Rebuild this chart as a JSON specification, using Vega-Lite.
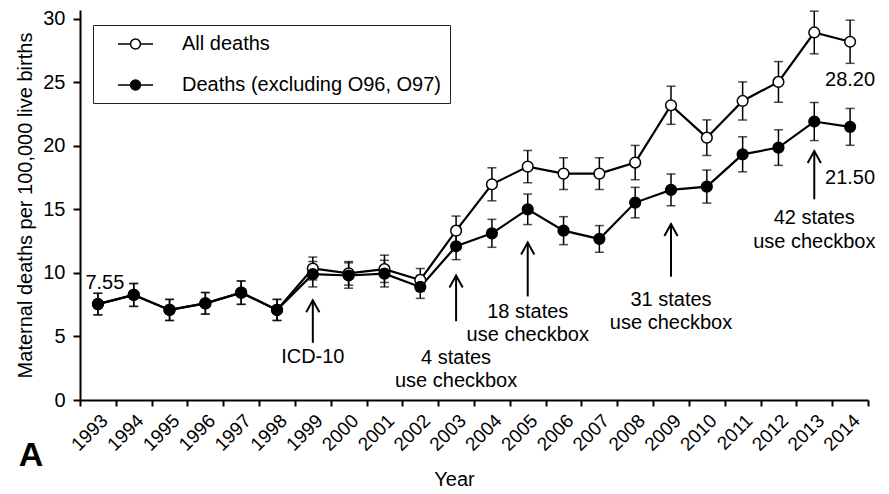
{
  "$schema": "https://vega.github.io/schema/vega-lite/v6.json",
  "width": 788,
  "height": 390,
  "autosize": "none",
  "padding": {"left": 80, "top": 10, "right": 21, "bottom": 94},
  "background": "white",
  "config": {
    "font": "Liberation Sans",
    "view": {"stroke": null},
    "axis": {"domainColor": "black", "tickColor": "black", "labelColor": "black", "titleColor": "black", "grid": false, "labelFont": "Liberation Sans", "titleFont": "Liberation Sans", "titleFontWeight": "normal"},
    "axisY": {"titleFontSize": 20, "titlePadding": 7, "labelFontSize": 20, "labelPadding": 8, "tickSize": 7, "tickWidth": 2, "domainWidth": 2}
  },
  "title": {"text": "A", "orient": "bottom", "anchor": "start", "frame": "bounds", "fontSize": 34, "fontWeight": "bold", "font": "Liberation Sans", "color": "black", "offset": -50, "dx": 3},
  "datasets": {
    "main": [
      {"year": 1993, "series": "All deaths", "v": 7.55, "lo": 6.70, "hi": 8.40},
      {"year": 1994, "series": "All deaths", "v": 8.27, "lo": 7.37, "hi": 9.17},
      {"year": 1995, "series": "All deaths", "v": 7.09, "lo": 6.26, "hi": 7.92},
      {"year": 1996, "series": "All deaths", "v": 7.61, "lo": 6.76, "hi": 8.46},
      {"year": 1997, "series": "All deaths", "v": 8.45, "lo": 7.53, "hi": 9.37},
      {"year": 1998, "series": "All deaths", "v": 7.09, "lo": 6.26, "hi": 7.92},
      {"year": 1999, "series": "All deaths", "v": 10.35, "lo": 9.45, "hi": 11.25},
      {"year": 2000, "series": "All deaths", "v": 9.97, "lo": 9.04, "hi": 10.90},
      {"year": 2001, "series": "All deaths", "v": 10.30, "lo": 9.25, "hi": 11.40},
      {"year": 2002, "series": "All deaths", "v": 9.45, "lo": 8.55, "hi": 10.35},
      {"year": 2003, "series": "All deaths", "v": 13.33, "lo": 12.18, "hi": 14.48},
      {"year": 2004, "series": "All deaths", "v": 16.98, "lo": 15.68, "hi": 18.28},
      {"year": 2005, "series": "All deaths", "v": 18.37, "lo": 17.10, "hi": 19.64},
      {"year": 2006, "series": "All deaths", "v": 17.82, "lo": 16.57, "hi": 19.07},
      {"year": 2007, "series": "All deaths", "v": 17.82, "lo": 16.57, "hi": 19.07},
      {"year": 2008, "series": "All deaths", "v": 18.69, "lo": 17.34, "hi": 20.04},
      {"year": 2009, "series": "All deaths", "v": 23.20, "lo": 21.70, "hi": 24.70},
      {"year": 2010, "series": "All deaths", "v": 20.65, "lo": 19.25, "hi": 22.05},
      {"year": 2011, "series": "All deaths", "v": 23.54, "lo": 22.04, "hi": 25.04},
      {"year": 2012, "series": "All deaths", "v": 25.04, "lo": 23.44, "hi": 26.64},
      {"year": 2013, "series": "All deaths", "v": 28.93, "lo": 27.25, "hi": 30.61},
      {"year": 2014, "series": "All deaths", "v": 28.20, "lo": 26.50, "hi": 29.90},
      {"year": 1993, "series": "Deaths (excluding O96, O97)", "v": 7.55, "lo": 6.70, "hi": 8.40},
      {"year": 1994, "series": "Deaths (excluding O96, O97)", "v": 8.27, "lo": 7.37, "hi": 9.17},
      {"year": 1995, "series": "Deaths (excluding O96, O97)", "v": 7.09, "lo": 6.26, "hi": 7.92},
      {"year": 1996, "series": "Deaths (excluding O96, O97)", "v": 7.61, "lo": 6.76, "hi": 8.46},
      {"year": 1997, "series": "Deaths (excluding O96, O97)", "v": 8.45, "lo": 7.53, "hi": 9.37},
      {"year": 1998, "series": "Deaths (excluding O96, O97)", "v": 7.09, "lo": 6.26, "hi": 7.92},
      {"year": 1999, "series": "Deaths (excluding O96, O97)", "v": 9.90, "lo": 8.90, "hi": 10.90},
      {"year": 2000, "series": "Deaths (excluding O96, O97)", "v": 9.80, "lo": 8.80, "hi": 10.80},
      {"year": 2001, "series": "Deaths (excluding O96, O97)", "v": 9.95, "lo": 8.90, "hi": 11.00},
      {"year": 2002, "series": "Deaths (excluding O96, O97)", "v": 8.90, "lo": 8.00, "hi": 9.80},
      {"year": 2003, "series": "Deaths (excluding O96, O97)", "v": 12.10, "lo": 11.05, "hi": 13.15},
      {"year": 2004, "series": "Deaths (excluding O96, O97)", "v": 13.12, "lo": 12.02, "hi": 14.22},
      {"year": 2005, "series": "Deaths (excluding O96, O97)", "v": 15.01, "lo": 13.81, "hi": 16.21},
      {"year": 2006, "series": "Deaths (excluding O96, O97)", "v": 13.33, "lo": 12.23, "hi": 14.43},
      {"year": 2007, "series": "Deaths (excluding O96, O97)", "v": 12.68, "lo": 11.63, "hi": 13.73},
      {"year": 2008, "series": "Deaths (excluding O96, O97)", "v": 15.54, "lo": 14.34, "hi": 16.74},
      {"year": 2009, "series": "Deaths (excluding O96, O97)", "v": 16.54, "lo": 15.29, "hi": 17.79},
      {"year": 2010, "series": "Deaths (excluding O96, O97)", "v": 16.80, "lo": 15.50, "hi": 18.10},
      {"year": 2011, "series": "Deaths (excluding O96, O97)", "v": 19.34, "lo": 17.96, "hi": 20.72},
      {"year": 2012, "series": "Deaths (excluding O96, O97)", "v": 19.87, "lo": 18.47, "hi": 21.27},
      {"year": 2013, "series": "Deaths (excluding O96, O97)", "v": 21.92, "lo": 20.42, "hi": 23.42},
      {"year": 2014, "series": "Deaths (excluding O96, O97)", "v": 21.50, "lo": 20.05, "hi": 22.95}
    ],
    "arrows": [
      {"year": 1999, "base": 4.5, "tip": 7.85},
      {"year": 2003, "base": 6.2, "tip": 9.8},
      {"year": 2005, "base": 8.15, "tip": 12.4},
      {"year": 2009, "base": 9.7, "tip": 13.85},
      {"year": 2013, "base": 15.8, "tip": 19.6}
    ],
    "notes": [
      {"year": 1999, "y": 3.4, "label": "ICD-10"},
      {"year": 2003, "y": 3.31, "label": "4 states"},
      {"year": 2003, "y": 1.5, "label": "use checkbox"},
      {"year": 2005, "y": 6.95, "label": "18 states"},
      {"year": 2005, "y": 5.12, "label": "use checkbox"},
      {"year": 2009, "y": 7.87, "label": "31 states"},
      {"year": 2009, "y": 6.04, "label": "use checkbox"},
      {"year": 2013, "y": 14.3, "label": "42 states"},
      {"year": 2013, "y": 12.47, "label": "use checkbox"},
      {"year": 2014, "y": 25.2, "label": "28.20"},
      {"year": 2014, "y": 17.45, "label": "21.50"}
    ],
    "first": [
      {"year": 1993, "y": 9.24, "label": "7.55"}
    ]
  },
  "encoding": {
    "x": {
      "field": "year", "type": "ordinal",
      "scale": {"paddingInner": 0, "paddingOuter": 0},
      "axis": {"title": "Year", "titleFontSize": 20, "titlePadding": 15, "titleX": 374, "labelAngle": -45, "labelAlign": "right", "labelBaseline": "top", "labelFontSize": 19, "labelPadding": 5, "tickBand": "extent", "tickSize": 6, "tickWidth": 2, "domainWidth": 2}
    }
  },
  "layer": [
    {
      "data": {"name": "main"},
      "mark": {"type": "line", "color": "black", "strokeWidth": 2.2},
      "encoding": {
        "detail": {"field": "series"},
        "y": {"field": "v", "type": "quantitative", "title": "Maternal deaths per 100,000 live births", "scale": {"domain": [0, 30.7], "nice": false}, "axis": {"values": [0, 5, 10, 15, 20, 25, 30]}}
      }
    },
    {
      "data": {"name": "main"},
      "mark": {"type": "rule", "color": "black", "strokeWidth": 1.5},
      "encoding": {
        "y": {"field": "lo", "type": "quantitative", "title": "Maternal deaths per 100,000 live births", "scale": {"domain": [0, 30.7], "nice": false}, "axis": {"values": [0, 5, 10, 15, 20, 25, 30]}},
        "y2": {"field": "hi"}
      }
    },
    {
      "data": {"name": "main"},
      "mark": {"type": "tick", "color": "black", "thickness": 1.5, "size": 9, "orient": "horizontal"},
      "encoding": {
        "y": {"field": "lo", "type": "quantitative", "title": "Maternal deaths per 100,000 live births", "scale": {"domain": [0, 30.7], "nice": false}, "axis": {"values": [0, 5, 10, 15, 20, 25, 30]}}
      }
    },
    {
      "data": {"name": "main"},
      "mark": {"type": "tick", "color": "black", "thickness": 1.5, "size": 9, "orient": "horizontal"},
      "encoding": {
        "y": {"field": "hi", "type": "quantitative", "title": "Maternal deaths per 100,000 live births", "scale": {"domain": [0, 30.7], "nice": false}, "axis": {"values": [0, 5, 10, 15, 20, 25, 30]}}
      }
    },
    {
      "data": {"name": "main"},
      "mark": {"type": "point", "shape": "circle", "filled": true, "size": 115, "stroke": "black", "strokeWidth": 1.5, "opacity": 1},
      "encoding": {
        "y": {"field": "v", "type": "quantitative", "title": "Maternal deaths per 100,000 live births", "scale": {"domain": [0, 30.7], "nice": false}, "axis": {"values": [0, 5, 10, 15, 20, 25, 30]}},
        "fill": {"field": "series", "type": "nominal",
          "scale": {"domain": ["All deaths", "Deaths (excluding O96, O97)"], "range": ["white", "black"]},
          "legend": {"title": null, "orient": "none", "legendX": 13, "legendY": 15, "padding": 8, "strokeColor": "#222",
            "symbolType": "M-1.75,0L-0.5,0M0.5,0L1.75,0M0.5,0A0.5,0.5,0,1,1,-0.5,0A0.5,0.5,0,1,1,0.5,0Z",
            "symbolSize": 400, "symbolStrokeColor": "black", "symbolStrokeWidth": 1.5, "symbolOffset": 23.5,
            "labelOffset": 35.5, "labelFontSize": 20, "labelColor": "black", "labelFont": "Liberation Sans", "labelLimit": 400, "rowPadding": 20,
            "encode": {"legend": {"update": {"strokeWidth": {"value": 1.5}}}, "symbols": {"update": {"shape": {"value": "M-1.75,0L-0.5,0M0.5,0L1.75,0M0.5,0A0.5,0.5,0,1,1,-0.5,0A0.5,0.5,0,1,1,0.5,0Z"}, "stroke": {"value": "black"}, "strokeWidth": {"value": 1.5}}}}}
        }
      }
    },
    {
      "data": {"name": "arrows"},
      "mark": {"type": "rule", "color": "black", "strokeWidth": 2},
      "encoding": {
        "y": {"field": "base", "type": "quantitative", "title": "Maternal deaths per 100,000 live births", "scale": {"domain": [0, 30.7], "nice": false}, "axis": {"values": [0, 5, 10, 15, 20, 25, 30]}},
        "y2": {"field": "tip"}
      }
    },
    {
      "data": {"name": "arrows"},
      "mark": {"type": "point", "shape": "M-0.55,1L0,0L0.55,1", "filled": false, "size": 576, "stroke": "black", "strokeWidth": 2, "opacity": 1},
      "encoding": {
        "y": {"field": "tip", "type": "quantitative", "title": "Maternal deaths per 100,000 live births", "scale": {"domain": [0, 30.7], "nice": false}, "axis": {"values": [0, 5, 10, 15, 20, 25, 30]}}
      }
    },
    {
      "data": {"name": "notes"},
      "mark": {"type": "text", "fontSize": 20, "font": "Liberation Sans", "color": "black", "align": "center", "baseline": "middle"},
      "encoding": {
        "y": {"field": "y", "type": "quantitative", "title": "Maternal deaths per 100,000 live births", "scale": {"domain": [0, 30.7], "nice": false}, "axis": {"values": [0, 5, 10, 15, 20, 25, 30]}},
        "text": {"field": "label"}
      }
    },
    {
      "data": {"name": "first"},
      "mark": {"type": "text", "fontSize": 20, "font": "Liberation Sans", "color": "black", "align": "center", "baseline": "middle", "dx": 7},
      "encoding": {
        "y": {"field": "y", "type": "quantitative", "title": "Maternal deaths per 100,000 live births", "scale": {"domain": [0, 30.7], "nice": false}, "axis": {"values": [0, 5, 10, 15, 20, 25, 30]}},
        "text": {"field": "label"}
      }
    }
  ]
}
